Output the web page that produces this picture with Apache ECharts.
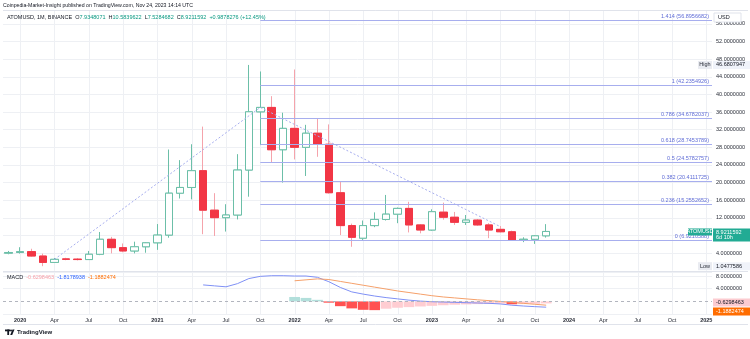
<!DOCTYPE html>
<html><head><meta charset="utf-8">
<script src="https://cdn.jsdelivr.net/npm/echarts@6/dist/echarts.min.js"></script>
<style>html,body{margin:0;padding:0;background:#fff}#c{width:750px;height:339px}</style>
</head><body><div id="c"></div>
<script>
// ---------- data ----------
const months = ['Dec 2019',
 'Jan 2020','Feb 2020','Mar 2020','Apr 2020','May 2020','Jun 2020','Jul 2020','Aug 2020','Sep 2020','Oct 2020','Nov 2020','Dec 2020',
 'Jan 2021','Feb 2021','Mar 2021','Apr 2021','May 2021','Jun 2021','Jul 2021','Aug 2021','Sep 2021','Oct 2021','Nov 2021','Dec 2021',
 'Jan 2022','Feb 2022','Mar 2022','Apr 2022','May 2022','Jun 2022','Jul 2022','Aug 2022','Sep 2022','Oct 2022','Nov 2022','Dec 2022',
 'Jan 2023','Feb 2023','Mar 2023','Apr 2023','May 2023','Jun 2023','Jul 2023','Aug 2023','Sep 2023','Oct 2023','Nov 2023','Dec 2023',
 'Jan 2024','Feb 2024','Mar 2024','Apr 2024','May 2024','Jun 2024','Jul 2024','Aug 2024','Sep 2024','Oct 2024','Nov 2024','Dec 2024',
 'Jan 2025'];

const quarterCats = ['Jan 2020','Apr 2020','Jul 2020','Oct 2020','Jan 2021','Apr 2021','Jul 2021','Oct 2021',
 'Jan 2022','Apr 2022','Jul 2022','Oct 2022','Jan 2023','Apr 2023','Jul 2023','Oct 2023',
 'Jan 2024','Apr 2024','Jul 2024','Oct 2024','Jan 2025'];
const tickText = ['2020','Apr','Jul','Oct','2021','Apr','Jul','Oct','2022','Apr','Jul','Oct','2023','Apr','Jul','Oct','2024','Apr','Jul','Oct','2025'];

// monthly candles, Dec 2019 .. Nov 2023
const opens  = [4.0,4.15,4.35,3.35,1.9,2.7,2.65,2.55,3.75,7.15,5.25,4.5,5.45,6.35,8.1,17.6,18.9,22.7,13.75,12.05,12.65,22.85,36.05,37.05,27.45,32.3,28.0,31.2,28.7,17.7,10.25,7.4,10.25,11.65,12.85,14.15,10.4,9.25,13.3,12.15,11.0,11.5,10.4,9.4,8.85,7.0,7.15,7.9348071];
const closes = [4.15,4.35,3.35,1.9,2.6,2.6,2.55,3.75,7.15,5.25,4.5,5.45,6.35,8.1,17.6,18.9,22.7,13.75,12.05,12.65,22.85,36.05,37.05,27.45,32.3,28.0,31.2,28.7,17.7,10.25,7.6,10.25,11.65,12.85,14.15,10.4,9.25,13.4,12.15,11.0,11.5,10.4,9.25,8.85,7.0,7.15,7.93,8.9211592];
const lows   = [3.75,3.9,3.2,1.0477586,1.8,2.4,2.35,2.45,3.55,3.95,4.2,3.95,4.1,4.75,7.5,16.4,16.2,8.3,7.9,8.9,11.65,16.8,28.5,24.55,20.0,25.25,21.5,25.85,17.5,8.1,5.45,7.0,9.9,11.4,10.8,8.7,8.5,9.1,11.6,10.4,10.4,10.2,7.4,8.7,6.8,6.5,6.1,7.5284682];
const highs  = [4.5,5.35,5.0,3.9,2.9,2.95,2.9,4.5,8.8,7.7,6.2,6.6,6.5,10.6,27.5,25.1,28.7,32.7,17.6,15.1,26.45,46.6807947,45.2,39.6,35.85,45.65,33.1,34.55,33.2,20.2,10.7,11.4,13.25,17.2,14.35,15.65,10.6,13.95,15.45,13.35,12.65,11.75,10.8,10.15,9.1,7.6,8.1,10.5839622];

// trend-based fib extension
const fibRatios = [1.414,1,0.786,0.618,0.5,0.382,0.236,0];
const fibValues = [56.8956682,42.2354926,34.6782037,28.7453789,24.5782757,20.4111725,15.2552652,6.9210588];
const fibStart = 'Oct 2021';
const trendCats = ['Apr 2020','Oct 2021','Jul 2023'];
const trendVals = [2.6,37.05,10.0];

// MACD (12,26,9)
const macdStart = 'May 2021';
const macdVals = [5.2,4.9,4.6,5.6,7.2,7.9,8.1,8.1,8.0,8.0,7.6,6.2,4.4,3.0,2.3,1.7,1.2,0.8,0.4,0.1,-0.1,-0.2,-0.3,-0.4,-0.5,-0.6,-0.8,-1.2,-1.45,-1.65,-1.8178938];
const signalStart = 'Jan 2022';
const signalVals = [6.5,6.8,7.1,6.9,6.3,5.7,5.1,4.5,3.9,3.3,2.8,2.3,1.8,1.4,1.1,0.8,0.5,0.25,0.0,-0.3,-0.6,-0.9,-1.1882474];
const histVals = [1.4,1.1,0.5,-0.4,-1.5,-2.2,-2.65,-2.75,-2.3,-2.0,-1.8,-1.6,-1.4,-1.2,-1.05,-0.95,-0.85,-0.8,-0.7,-0.9,-0.85,-0.75,-0.6298463];

// ---------- chart ----------
const FONT = '"Liberation Sans", Arial, sans-serif';
const idx = c => months.indexOf(c);
const spread = (start, vals) => { const a = months.map(() => null); const s = idx(start); vals.forEach((v, i) => a[s + i] = v); return a; };
const candleData = opens.map((o, i) => [o, closes[i], lows[i], highs[i]]);
const bodyData = opens.map((o, i) => [o, closes[i], Math.min(o, closes[i]), Math.max(o, closes[i])]);
const trendData = months.map(() => null); trendCats.forEach((c, i) => trendData[idx(c)] = trendVals[i]);
const histFull = spread(signalStart, histVals);
const GRID = '#eef0f4';
const FIB = '#a7aeee';

const vgrid = (xi, yi) => ({
  type: 'custom', xAxisIndex: xi, yAxisIndex: yi, z: 0, silent: true,
  data: quarterCats.map(c => [idx(c), 0]), encode: {x: 0, y: 1},
  renderItem: (p, api) => {
    const x = Math.round(api.coord([api.value(0), 0])[0]) + 0.5; const cs = p.coordSys;
    return {type: 'line', shape: {x1: x, y1: cs.y, x2: x, y2: cs.y + cs.height}, style: {stroke: GRID, lineWidth: 1}};
  }
});

const chart = echarts.init(document.getElementById('c'));
const option = {
  animation: false,
  grid: [{left: 3, right: 38, top: 10, height: 260.8}, {left: 3, right: 38, top: 272, height: 42.1}],
  xAxis: [
    {type: 'category', gridIndex: 0, data: months, boundaryGap: true, axisLine: {show: false}, axisTick: {show: false}, axisLabel: {show: false}, splitLine: {show: false}},
    {type: 'category', gridIndex: 1, data: months, boundaryGap: true, axisLine: {show: false}, axisTick: {show: false}, splitLine: {show: false},
     axisLabel: {interval: (i, v) => quarterCats.includes(v), margin: 3, color: '#2a2e39', fontSize: 5.5, fontFamily: FONT,
       formatter: v => { const t = tickText[quarterCats.indexOf(v)]; return /^\d{4}$/.test(t) ? '{y|' + t + '}' : t; },
       rich: {y: {fontWeight: 'bold', fontSize: 5.5, fontFamily: FONT, color: '#2a2e39'}}}}
  ],
  yAxis: [
    {type: 'value', gridIndex: 0, position: 'right', min: 0, max: 59.14, interval: 4,
     axisLine: {show: false}, axisTick: {show: false},
     axisLabel: {margin: 4, color: '#2a2e39', fontSize: 5.5, fontFamily: FONT, formatter: v => (v > 0 && v % 4 === 0) ? v.toFixed(7) : ''},
     splitLine: {lineStyle: {color: GRID, width: 1}}},
    {type: 'value', gridIndex: 1, position: 'right', min: -4, max: 9.27, interval: 4,
     axisLine: {show: false}, axisTick: {show: false},
     axisLabel: {margin: 4, color: '#2a2e39', fontSize: 5.5, fontFamily: FONT, formatter: v => (v === 4 || v === 8) ? v.toFixed(7) : ''},
     splitLine: {lineStyle: {color: [GRID, 'rgba(0,0,0,0)', GRID, GRID, GRID], width: 1}}}
  ],
  series: [
    vgrid(0, 0), vgrid(1, 1),
    // wicks (full range), lighter for down candles
    {type: 'candlestick', xAxisIndex: 0, yAxisIndex: 0, z: 3, data: candleData, barWidth: 8, silent: true,
     itemStyle: {color: '#ffffff', color0: '#f23645', borderColor: '#6cbfa8', borderColor0: '#f5a3ab', borderWidth: 1}},
    // bodies on top
    {type: 'candlestick', xAxisIndex: 0, yAxisIndex: 0, z: 4, data: bodyData, barWidth: 8,
     itemStyle: {color: '#ffffff', color0: '#f23645', borderColor: '#6cbfa8', borderColor0: '#f23645', borderWidth: 1}},
    {type: 'line', xAxisIndex: 0, yAxisIndex: 0, z: 5, silent: true, data: trendData, connectNulls: true, symbol: 'none',
     lineStyle: {color: FIB, width: 1, type: [2, 2]}},
    {type: 'custom', xAxisIndex: 0, yAxisIndex: 0, z: 5, silent: true,
     data: fibValues.map((v, i) => [idx(fibStart), v, i]), encode: {x: 0, y: 1},
     renderItem: (p, api) => {
       const pt = api.coord([api.value(0), api.value(1)]); const cs = p.coordSys; const k = api.value(2);
       const y = Math.round(pt[1]) + 0.5; const xr = cs.x + cs.width;
       return {type: 'group', children: [
         {type: 'line', shape: {x1: pt[0], y1: y, x2: xr, y2: y}, style: {stroke: FIB, lineWidth: 1}},
         {type: 'text', style: {text: fibRatios[k] + ' (' + fibValues[k].toFixed(7) + ')', x: xr - 3, y: y - 1.5, align: 'right', verticalAlign: 'bottom', fill: '#5f6cd6', font: '5.5px ' + FONT}}
       ]};
     }},
    {type: 'bar', xAxisIndex: 1, yAxisIndex: 1, z: 2, data: histFull, barCategoryGap: '6%',
     itemStyle: {color: p => { const v = p.value; const prev = histFull[p.dataIndex - 1];
       const rising = prev != null && v > prev;
       if (v >= 0) return rising ? '#26a69a' : '#b2dfdb';
       return rising ? '#ffcdd2' : '#ff5252'; }},
     markLine: {silent: true, symbol: 'none', label: {show: false}, lineStyle: {color: '#b2b5be', type: [3, 3], width: 1}, data: [{yAxis: 0}]}},
    {type: 'line', xAxisIndex: 1, yAxisIndex: 1, z: 3, data: spread(macdStart, macdVals), symbol: 'none', lineStyle: {color: '#7f90f5', width: 1}},
    {type: 'line', xAxisIndex: 1, yAxisIndex: 1, z: 3, data: spread(signalStart, signalVals), symbol: 'none', lineStyle: {color: '#f5a06a', width: 1}}
  ]
};
chart.setOption(option);

// ---------- overlays (price labels, header) ----------
const py = v => chart.convertToPixel({yAxisIndex: 0}, v);
const my = v => chart.convertToPixel({yAxisIndex: 1}, v);
const F = s => s + 'px ' + FONT;
const lastClose = closes[closes.length - 1];
const hi = Math.max(...highs), lo = Math.min(...lows);
const yC = py(lastClose), yH = py(hi), yL = py(lo);
const yHist = my(histVals[histVals.length - 1]);
const ySig = Math.max(my(signalVals[signalVals.length - 1]), yHist + 8);
const hline = (y, x1, x2, c) => ({type: 'line', silent: true, shape: {x1, y1: y, x2, y2: y}, style: {stroke: c, lineWidth: 1}, z: 50});
const box = (x, y, w, h, fill, text, color, align) => ([
  {type: 'rect', silent: true, shape: {x, y, width: w, height: h}, style: {fill}, z: 60},
  {type: 'text', silent: true, x: align === 'center' ? x + w / 2 : x + 3, y: y + h / 2, style: {text, fill: color, font: F(5.5), align: align || 'left', verticalAlign: 'middle'}, z: 61}
]);
const g = [
  hline(10.5, 3, 748, '#e0e3eb'), hline(271.5, 3, 748, '#e0e3eb'), hline(324.5, 3, 748, '#e0e3eb'),
  {type: 'text', silent: true, x: 3, y: 5.5, style: {text: 'Coinpedia-Market-Insight published on TradingView.com, Nov 24, 2023 14:14 UTC', fill: '#131722', font: F(5.2), verticalAlign: 'middle'}, z: 70},
  {type: 'text', silent: true, x: 7, y: 17, z: 70, style: {
    text: '{d|ATOMUSD, 1M, BINANCE}  {d|O}{v|7.9348071}  {d|H}{v|10.5839622}  {d|L}{v|7.5284682}  {d|C}{v|8.9211592}  {v|+0.9878276 (+12.45%)}',
    verticalAlign: 'middle', font: F(5.5),
    rich: {d: {fill: '#131722', fontSize: 5.5, fontFamily: FONT}, v: {fill: '#089981', fontSize: 5.5, fontFamily: FONT}}}},
  {type: 'text', silent: true, x: 7, y: 277.7, z: 70, style: {
    text: '{d|MACD}  {p|' + histVals[histVals.length - 1].toFixed(7) + '}  {b|' + macdVals[macdVals.length - 1].toFixed(7) + '}  {o|' + signalVals[signalVals.length - 1].toFixed(7) + '}',
    verticalAlign: 'middle', font: F(5.5),
    rich: {d: {fill: '#131722', fontSize: 5.5, fontFamily: FONT}, p: {fill: '#f7a1a9', fontSize: 5.5, fontFamily: FONT}, b: {fill: '#2962ff', fontSize: 5.5, fontFamily: FONT}, o: {fill: '#ff6d00', fontSize: 5.5, fontFamily: FONT}}}},
  {type: 'rect', silent: true, shape: {x: 714, y: 13, width: 27, height: 9}, style: {fill: '#ffffff', stroke: '#e0e3eb', lineWidth: 1}, z: 60},
  {type: 'text', silent: true, x: 718, y: 17.5, style: {text: 'USD', fill: '#131722', font: F(5.5), verticalAlign: 'middle'}, z: 61},
  ...box(698, yH - 4, 14, 8, '#e9ebf1', 'High', '#2a2e39', 'center'),
  ...box(713, yH - 4, 37, 8, '#f0f3fa', hi.toFixed(7), '#131722'),
  ...box(698, yL - 4, 14, 8, '#e9ebf1', 'Low', '#2a2e39', 'center'),
  ...box(713, yL - 4, 37, 8, '#f0f3fa', lo.toFixed(7), '#131722'),
  ...box(688, yC - 3, 24, 7, '#22ab94', 'ATOMUSD', '#ffffff', 'center'),
  {type: 'rect', silent: true, shape: {x: 713, y: yC - 3, width: 37, height: 13}, style: {fill: '#22ab94'}, z: 60},
  {type: 'text', silent: true, x: 716, y: yC + 0.7, style: {text: lastClose.toFixed(7), fill: '#fff', font: F(5.5), verticalAlign: 'middle'}, z: 61},
  {type: 'text', silent: true, x: 716, y: yC + 6.5, style: {text: '6d 10h', fill: '#fff', font: F(5.5), verticalAlign: 'middle'}, z: 61},
  ...box(713, yHist - 5, 37, 8, '#fccbd0', histVals[histVals.length - 1].toFixed(7), '#131722'),
  ...box(713, ySig - 4, 37, 8, '#ff6d00', signalVals[signalVals.length - 1].toFixed(7), '#ffffff'),
  {type: 'rect', silent: true, shape: {x: 5, y: 329.5, width: 5, height: 1.8}, style: {fill: '#131722'}, z: 70},
  {type: 'rect', silent: true, shape: {x: 7.3, y: 329.5, width: 1.8, height: 5.5}, style: {fill: '#131722'}, z: 70},
  {type: 'circle', silent: true, shape: {cx: 11, cy: 330.4, r: 1}, style: {fill: '#131722'}, z: 70},
  {type: 'polygon', silent: true, shape: {points: [[12.5, 329.5], [14.5, 329.5], [12.2, 335], [10.2, 335]]}, style: {fill: '#131722'}, z: 70},
  {type: 'text', silent: true, x: 17, y: 332.3, style: {text: 'TradingView', fill: '#131722', font: '600 6px ' + FONT, verticalAlign: 'middle'}, z: 70}
];
chart.setOption({graphic: g});
</script>
</body></html>
